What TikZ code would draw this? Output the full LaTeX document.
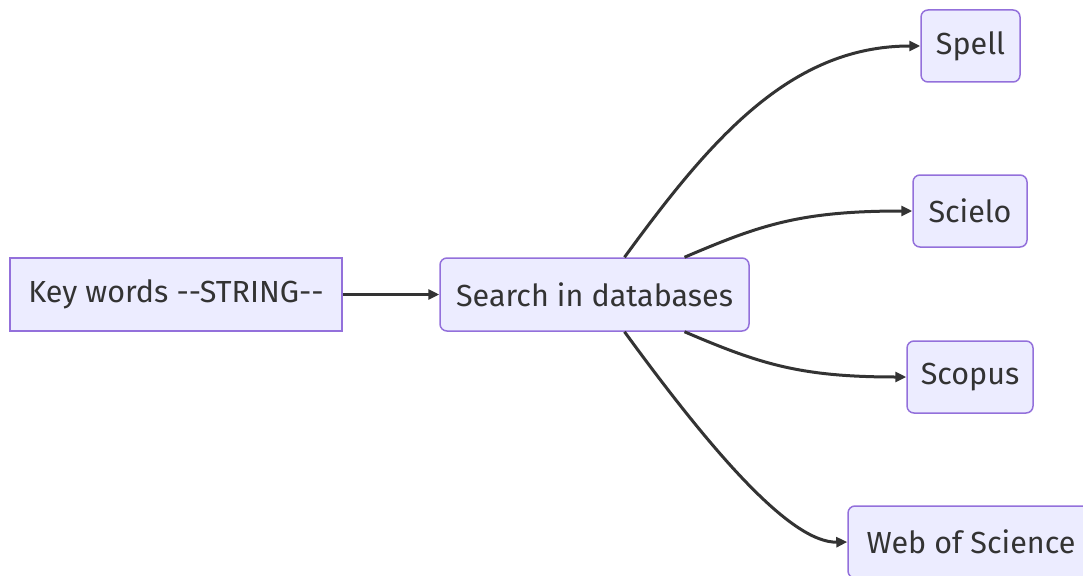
\documentclass[tikz,border=0pt]{standalone}
\usepackage{fontspec}
\setmainfont{Fira Sans}
\usetikzlibrary{arrows.meta}
\definecolor{nodefill}{HTML}{ECECFF}
\definecolor{nodeline}{HTML}{9370DB}
\definecolor{edgecol}{HTML}{333333}
\tikzset{
  box/.style={draw=nodeline, fill=nodefill, line width=1.5pt, text=edgecol,
    font=\fontsize{30.5}{34}\selectfont, inner sep=0pt, anchor=center},
  rbox/.style={box, rounded corners=7pt},
  edge/.style={draw=edgecol, line width=3pt, -{Triangle[length=11pt,width=10pt]}},
}
\begin{document}
\begin{tikzpicture}[x=1pt,y=-1pt]
\useasboundingbox (0,0) rectangle (1083,575);
\node[box, minimum width=332pt, minimum height=73pt] (key) at (176,294.5) {Key words {-}{-}STRING{-}{-}};
\node[rbox, minimum width=309pt, minimum height=73pt] (search) at (594.5,294.5) {Search in databases};
\node[rbox, minimum width=99pt, minimum height=72pt] (spell) at (970.5,46) {Spell};
\node[rbox, minimum width=114pt, minimum height=72pt] (scielo) at (970,211) {Scielo};
\node[rbox, minimum width=126pt, minimum height=72pt] (scopus) at (970,377) {Scopus};
\node[rbox, minimum width=246pt, minimum height=72pt] (wos) at (971,542) {Web of Science};
\draw[edge] (key.east) -- (search.west);
\draw[edge] ([xshift=30pt]search.north) .. controls (710,140) and (790,46) .. (spell.west);
\draw[edge] ([xshift=90pt]search.north) .. controls (760,225) and (800,211) .. (scielo.west);
\draw[edge] ([xshift=90pt]search.south) .. controls (760,364) and (800,377) .. (scopus.west);
\draw[edge] ([xshift=30pt]search.south) .. controls (710,449) and (790,543) .. (wos.west);
\end{tikzpicture}
\end{document}
